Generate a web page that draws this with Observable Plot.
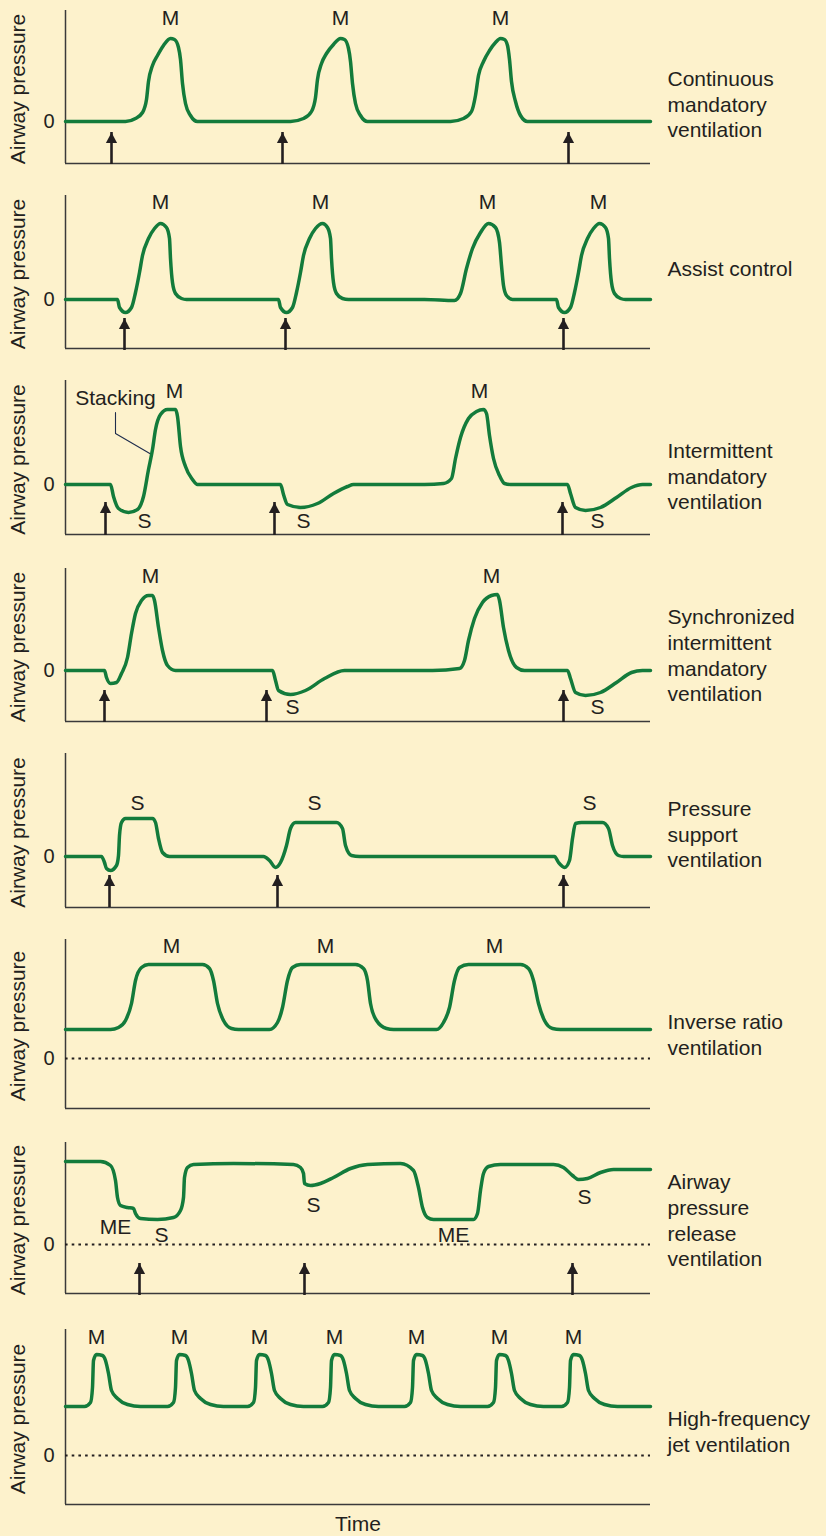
<!DOCTYPE html>
<html><head><meta charset="utf-8">
<script src="https://cdn.jsdelivr.net/npm/d3@7"></script>
<script src="https://cdn.jsdelivr.net/npm/@observablehq/plot@0.6"></script>
<style>
html,body{margin:0;padding:0;background:#fdf2cc;}
#chart{position:relative;width:826px;height:1536px;overflow:hidden;background:#fdf2cc;}
.panel{position:absolute;left:0;}
</style></head><body><div id="chart"></div>
<script>
// ---- Data (time units, pressure units) ----
const cmvWave = [[0,0],
[6.0,0],[7.0,0.3],[7.7,0.9],[8.1,2.2],[8.3,4.0],[8.7,5.6],[9.2,6.6],[9.8,7.6],[10.5,8.3],[10.9,8.2],[11.3,7.4],[11.5,6.2],[11.7,3.8],[12.0,1.8],[12.5,0.6],[13.2,0],
[22.5,0],[23.8,0.3],[24.6,1.0],[25.0,2.4],[25.2,4.2],[25.6,5.8],[26.1,6.8],[26.8,7.7],[27.5,8.3],[27.9,8.2],[28.3,7.3],[28.5,6.0],[28.7,3.8],[29.0,1.8],[29.5,0.6],[30.2,0],
[38.5,0],[39.8,0.3],[40.6,1.0],[41.0,2.6],[41.3,4.6],[41.8,6.0],[42.4,7.1],[43.0,7.9],[43.5,8.3],[43.9,8.2],[44.2,7.6],[44.4,6.2],[44.6,4.0],[45.0,2.0],[45.5,0.6],[46.2,0],
[58.5,0]];
const cmvTriggers = [4.6, 21.7, 50.3];
const cmvLabels = [{t:10.5,p:10.3,text:"M"},{t:27.5,p:10.3,text:"M"},{t:43.5,p:10.3,text:"M"}];

const acWave = [[0,0],
[5.2,0],[5.4,-0.8],[6.0,-1.3],[6.6,-0.8],[7.0,0.7],[7.4,2.7],[7.7,4.4],[8.3,6.1],[8.9,7.1],[9.5,7.6],[10.1,7.2],[10.4,6.1],[10.5,4.1],[10.7,1.7],[11.0,0.6],[11.6,0.1],[12.1,0],
[21.3,0],[21.5,-0.8],[22.1,-1.3],[22.7,-0.8],[23.1,0.7],[23.5,2.7],[23.8,4.4],[24.4,6.1],[25.0,7.1],[25.7,7.6],[26.2,7.2],[26.5,6.1],[26.6,4.1],[26.8,1.7],[27.1,0.6],[27.7,0.1],[28.3,0],
[35.9,0],[38.9,-0.1],[39.5,0.6],[40.1,3.1],[40.7,5.1],[41.5,6.7],[42.3,7.6],[43.0,7.2],[43.4,5.7],[43.6,3.4],[43.8,1.4],[44.1,0.4],[44.7,0],
[49.1,0],[49.3,-0.8],[49.9,-1.3],[50.5,-0.8],[50.9,0.7],[51.3,2.7],[51.6,4.4],[52.2,6.1],[52.8,7.1],[53.4,7.6],[54.0,7.2],[54.3,6.1],[54.4,4.1],[54.6,1.7],[54.9,0.6],[55.5,0.1],[56.0,0],
[58.5,0]];
const acTriggers = [5.9, 22.0, 49.8];
const acLabels = [{t:9.5,p:9.7,text:"M"},{t:25.5,p:9.7,text:"M"},{t:42.2,p:9.7,text:"M"},{t:53.3,p:9.7,text:"M"}];

const imvWave = [[0,0],
[4.5,0],[4.8,-1.2],[5.3,-2.4],[6.3,-2.8],[7.2,-2.5],[7.8,-1.2],[8.3,1.5],[8.7,3.5],[9.0,5.5],[9.5,7.0],[10.2,7.5],[11.0,7.5],[11.2,6.8],[11.5,3.8],[12.0,1.8],[12.7,0.5],[13.2,0],
[21.5,0],[21.8,-1.0],[22.2,-2.0],[23.5,-2.3],[25.2,-1.9],[26.8,-0.9],[28.2,-0.2],[28.8,0],
[35.9,0],[37.8,0.1],[38.6,0.6],[39.0,2.6],[39.5,4.7],[40.3,6.6],[41.1,7.3],[41.8,7.5],[42.1,7.1],[42.4,4.9],[42.8,2.6],[43.4,0.9],[43.9,0.1],[44.5,0],
[50.2,0],[50.5,-0.9],[51.0,-2.3],[52.0,-2.6],[53.5,-2.3],[55.1,-1.3],[56.6,-0.3],[57.7,0],[58.5,0]];
const imvTriggers = [4.0, 20.9, 49.7];
const imvLabels = [{t:10.9,p:9.3,text:"M"},{t:41.4,p:9.3,text:"M"},{t:7.9,p:-3.7,text:"S"},{t:23.8,p:-3.7,text:"S"},{t:53.2,p:-3.7,text:"S"},{t:5.0,p:8.6,text:"Stacking"}];
const stackingLeader = [[5.0,7.2],[5.0,5.1],[8.6,3.0]];

const simvWave = [[0,0],
[3.9,0],[4.1,-0.7],[4.5,-1.3],[5.1,-1.2],[5.6,-0.3],[6.2,1.3],[6.6,3.7],[7.0,5.7],[7.6,7.0],[8.3,7.5],[8.7,7.5],[8.9,7.0],[9.3,4.3],[9.7,2.0],[10.2,0.5],[11.0,0],
[20.7,0],[21.0,-1.0],[21.3,-2.0],[22.5,-2.4],[24.0,-2.0],[25.9,-0.8],[27.9,0],
[36.7,0],[39.4,0.2],[39.9,1.0],[40.3,3.0],[40.9,5.2],[41.7,6.8],[42.6,7.5],[43.2,7.6],[43.4,7.0],[43.8,4.3],[44.3,2.0],[45.1,0.3],[45.9,0],
[50.2,0],[50.5,-0.8],[51.0,-2.2],[52.0,-2.5],[53.5,-2.2],[55.1,-1.2],[56.6,-0.2],[57.7,0],[58.5,0]];
const simvTriggers = [3.9, 20.1, 49.8];
const simvLabels = [{t:8.5,p:9.4,text:"M"},{t:42.6,p:9.4,text:"M"},{t:22.7,p:-3.7,text:"S"},{t:53.2,p:-3.7,text:"S"}];

const psvWave = [[0,0],
[3.6,0],[3.9,-0.6],[4.1,-1.2],[4.5,-1.4],[5.1,-0.9],[5.3,0.1],[5.4,2.1],[5.6,3.4],[6.0,3.8],[8.7,3.8],[9.0,3.4],[9.3,1.8],[9.7,0.4],[10.4,0],
[19.8,0],[20.4,-0.4],[21.0,-1.1],[21.5,-0.6],[22.1,1.1],[22.5,2.8],[23.0,3.4],[27.1,3.4],[27.7,2.8],[28.0,1.1],[28.6,0.1],[29.4,0],
[48.9,0],[49.3,-0.6],[49.9,-1.1],[50.4,-0.4],[50.7,1.8],[51.0,3.3],[51.6,3.4],[53.7,3.4],[54.3,2.8],[54.7,1.1],[55.3,0.1],[55.8,0],[58.5,0]];
const psvTriggers = [4.4, 21.2, 49.8];
const psvLabels = [{t:7.2,p:5.3,text:"S"},{t:24.9,p:5.3,text:"S"},{t:52.4,p:5.3,text:"S"}];

const irvWave = [[0,2.9],
[4.5,2.9],[5.3,3.1],[6.0,3.8],[6.6,5.5],[7.0,7.8],[7.6,9.1],[8.3,9.4],[13.7,9.4],[14.4,9.0],[14.8,7.8],[15.2,5.5],[15.8,3.8],[16.6,3.0],[17.3,2.9],
[20.4,2.9],[21.2,3.6],[21.7,5.1],[22.2,7.8],[22.7,9.1],[23.5,9.4],[29.0,9.4],[29.8,9.0],[30.2,7.8],[30.5,5.5],[31.1,3.8],[32.1,3.0],[32.8,2.9],
[37.1,2.9],[37.8,3.6],[38.4,5.1],[38.9,7.8],[39.4,9.1],[40.3,9.4],[45.5,9.4],[46.3,9.0],[46.8,7.8],[47.3,5.5],[47.9,3.8],[48.7,3.0],[49.5,2.9],[58.5,2.9]];
const irvLabels = [{t:10.6,p:11.2,text:"M"},{t:26.0,p:11.2,text:"M"},{t:42.9,p:11.2,text:"M"}];

const aprvWave = [[0,8.3],[3.5,8.3],[4.5,7.9],[5.0,6.4],[5.2,4.7],[5.5,3.9],[6.2,3.7],[6.8,3.6],[7.0,3.1],[7.5,2.6],[9.2,2.5],[10.8,2.7],[11.5,3.4],[11.8,4.7],[11.9,6.7],[12.2,7.7],[12.8,8.0],[16.8,8.1],
[22.8,8.0],[23.5,7.7],[23.8,7.1],[23.9,6.1],[24.5,5.9],[25.5,6.1],[26.8,6.7],[28.5,7.6],[30.2,8.0],[33.5,8.1],
[34.8,7.4],[35.3,5.7],[35.7,3.7],[36.2,2.7],[36.8,2.5],[40.8,2.5],[41.2,3.1],[41.5,5.4],[41.8,7.1],[42.3,7.8],[43.5,8.0],
[48.8,8.0],[49.8,7.7],[50.7,6.9],[51.3,6.5],[52.2,6.6],[53.5,7.2],[54.8,7.5],[58.5,7.5]];
const aprvTriggers = [7.4, 23.9, 50.7];
const aprvLabels = [{t:5.0,p:1.7,text:"ME"},{t:9.6,p:0.9,text:"S"},{t:24.8,p:3.9,text:"S"},{t:38.8,p:0.9,text:"ME"},{t:51.9,p:4.7,text:"S"}];

const hfjvWave = [[0,4.9],
[1.9,4.9],[2.5,5.3],[2.7,6.8],[2.8,9.5],[3.1,10.1],[3.7,10.0],[4.0,9.5],[4.3,8.2],[4.6,6.5],[5.2,5.7],[6.2,5.1],[7.5,4.9],
[10.2,4.9],[10.8,5.3],[11.0,6.8],[11.1,9.5],[11.4,10.1],[12.0,10.0],[12.3,9.5],[12.6,8.2],[12.9,6.5],[13.5,5.7],[14.5,5.1],[15.8,4.9],
[18.2,4.9],[18.8,5.3],[19.0,6.8],[19.1,9.5],[19.4,10.1],[20.0,10.0],[20.3,9.5],[20.6,8.2],[20.9,6.5],[21.5,5.7],[22.5,5.1],[23.8,4.9],
[25.7,4.9],[26.3,5.3],[26.5,6.8],[26.6,9.5],[26.9,10.1],[27.5,10.0],[27.8,9.5],[28.1,8.2],[28.4,6.5],[29.0,5.7],[30.0,5.1],[31.3,4.9],
[33.9,4.9],[34.5,5.3],[34.7,6.8],[34.8,9.5],[35.1,10.1],[35.7,10.0],[36.0,9.5],[36.3,8.2],[36.6,6.5],[37.2,5.7],[38.2,5.1],[39.5,4.9],
[42.2,4.9],[42.8,5.3],[43.0,6.8],[43.1,9.5],[43.4,10.1],[44.0,10.0],[44.3,9.5],[44.6,8.2],[44.9,6.5],[45.5,5.7],[46.5,5.1],[47.8,4.9],
[49.6,4.9],[50.2,5.3],[50.4,6.8],[50.5,9.5],[50.8,10.1],[51.4,10.0],[51.7,9.5],[52.0,8.2],[52.3,6.5],[52.9,5.7],[53.9,5.1],[55.2,4.9],
[58.5,4.9]];
const hfjvPeaks = [3.1, 11.4, 19.4, 26.9, 35.1, 43.4, 50.8];
const hfjvLabels = hfjvPeaks.map(t => ({t, p:11.8, text:"M"}));

const titles = ["Continuous\nmandatory\nventilation", "Assist control", "Intermittent\nmandatory\nventilation",
  "Synchronized\nintermittent\nmandatory\nventilation", "Pressure\nsupport\nventilation", "Inverse ratio\nventilation",
  "Airway\npressure\nrelease\nventilation", "High-frequency\njet ventilation"];

// ---- Layout / styling ----
const FONT = "'Liberation Sans', Arial, Helvetica, sans-serif";
const INK = "#231f20";
const AXIS = "#3a3a3a";
const GREEN = "#137b3b";
const TMAX = 58.5;
const YLABEL_T = -4.7;   // horizontal position of the rotated axis title (time units, left of axis)

// filled arrowhead: tip at (0,-10), base at y=0
const arrowHead = {draw(ctx) { ctx.moveTo(0, -10.5); ctx.lineTo(5.6, 0); ctx.lineTo(-5.6, 0); ctx.closePath(); }};

const panels = [
 {top:10,   yDomain:[-4.2,11.1], wave:cmvWave,  triggers:cmvTriggers,  arrow:[-3.7,-1.1], labels:cmvLabels,  titleP:1.8},
 {top:195,  yDomain:[-4.9,10.4], wave:acWave,   triggers:acTriggers,   arrow:[-4.5,-1.9], labels:acLabels,   titleP:3.2},
 {top:380,  yDomain:[-5.0,10.4], wave:imvWave,  triggers:imvTriggers,  arrow:[-4.5,-1.8], labels:imvLabels,  titleP:0.9, leader:stackingLeader},
 {top:568,  yDomain:[-5.1,10.2], wave:simvWave, triggers:simvTriggers, arrow:[-4.6,-2.0], labels:simvLabels, titleP:1.6},
 {top:753,  yDomain:[-5.1,10.3], wave:psvWave,  triggers:psvTriggers,  arrow:[-4.5,-1.9], labels:psvLabels,  titleP:2.3},
 {top:939,  yDomain:[-5.0,11.9], wave:irvWave,  dotted:true, labels:irvLabels, titleP:2.5},
 {top:1142, yDomain:[-4.9,10.2], wave:aprvWave, dotted:true, triggers:aprvTriggers, arrow:[-4.5,-1.9], labels:aprvLabels, titleP:2.5},
 {top:1329, yDomain:[-4.9,12.6], wave:hfjvWave, dotted:true, labels:hfjvLabels, titleP:2.5, last:true}
];

const chart = document.getElementById("chart");
panels.forEach((cfg, i) => {
  const mt = 10, mb = cfg.last ? 34 : 10;
  const frameH = Math.round((cfg.yDomain[1] - cfg.yDomain[0]) * 10);
  const yMid = (cfg.yDomain[0] + cfg.yDomain[1]) / 2 - 0.2;
  const marks = [
    Plot.ruleX([0], {stroke: AXIS, strokeWidth: 1.5}),
    Plot.ruleY([cfg.yDomain[0]], {stroke: AXIS, strokeWidth: 1.5})
  ];
  if (cfg.dotted) marks.push(Plot.ruleY([0], {stroke: INK, strokeWidth: 2, strokeDasharray: "2.6,4.1"}));
  marks.push(Plot.axisY([0], {tickSize: 0, tickPadding: 11, fontSize: 20, label: null}));
  marks.push(Plot.text(["Airway pressure"], {x: [YLABEL_T], y: [yMid], rotate: -90, fontSize: 21, fill: INK}));
  if (cfg.leader) marks.push(Plot.line(cfg.leader, {x: d => d[0], y: d => d[1], stroke: "#1f2d4d", strokeWidth: 1.1}));
  marks.push(Plot.line(cfg.wave, {x: d => d[0], y: d => d[1], curve: "monotone-x", stroke: GREEN, strokeWidth: 3.5, strokeLinejoin: "round", strokeLinecap: "round"}));
  if (cfg.triggers) {
    marks.push(Plot.ruleX(cfg.triggers, {x: d => d, y1: cfg.arrow[0], y2: cfg.arrow[1], stroke: INK, strokeWidth: 2.6, insetTop: 6}));
    marks.push(Plot.dot(cfg.triggers, {x: d => d, y: cfg.arrow[1], symbol: arrowHead, fill: INK, stroke: "none", dy: 10.5}));
  }
  marks.push(Plot.text(cfg.labels, {x: "t", y: "p", text: "text", fontSize: 21, fill: INK}));
  marks.push(Plot.text([titles[i]], {y: [cfg.titleP], frameAnchor: "right", dx: 17, textAnchor: "start", fontSize: 21, lineHeight: 1.22, fill: INK}));
  if (cfg.last) marks.push(Plot.text(["Time"], {frameAnchor: "bottom", dy: 26, fontSize: 21, fill: INK}));

  const svg = Plot.plot({
    width: 826, height: frameH + mt + mb,
    marginLeft: 65, marginRight: 826 - 650, marginTop: mt, marginBottom: mb,
    style: {background: "transparent", fontFamily: FONT, color: INK, overflow: "visible"},
    x: {domain: [0, TMAX], axis: null},
    y: {domain: cfg.yDomain},
    marks
  });
  const div = document.createElement("div");
  div.className = "panel";
  div.style.top = (cfg.top - mt) + "px";
  div.appendChild(svg);
  chart.appendChild(div);
});
</script></body></html>
